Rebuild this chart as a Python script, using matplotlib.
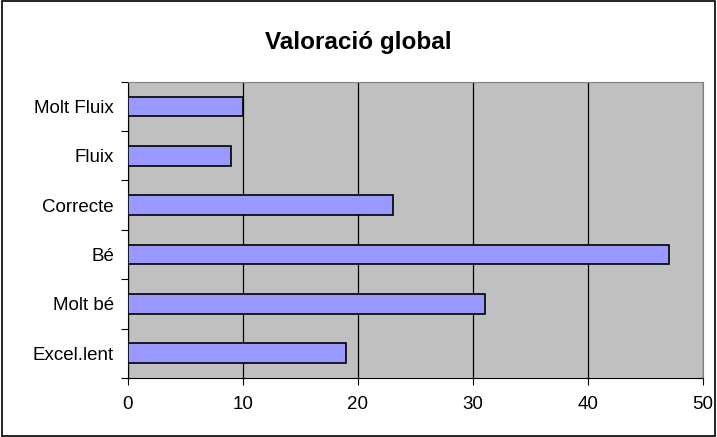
import matplotlib
matplotlib.use("Agg")
import matplotlib.pyplot as plt
from matplotlib.patches import Rectangle

plt.rcParams['font.family'] = ['Liberation Sans', 'DejaVu Sans']

# data, bottom to top as drawn
categories = ['Excel.lent', 'Molt bé', 'Bé', 'Correcte', 'Fluix', 'Molt Fluix']
values = [19, 31, 47, 23, 9, 10]
xticks = [0, 10, 20, 30, 40, 50]

fig = plt.figure(figsize=(7.17, 4.37), dpi=100)
ax = fig.add_axes([0.1785, 0.135, 0.802, 0.678])

ax.set_facecolor('#C0C0C0')
ax.barh(range(len(categories)), values, height=0.4, color='#9999FF',
        edgecolor='black', linewidth=1.2, zorder=3)

ax.set_xlim(0, 50)
ax.set_ylim(-0.5, len(categories) - 0.5)
ax.set_xticks(xticks)
ax.set_xticklabels([str(t) for t in xticks], fontsize=13.5)
ax.xaxis.grid(True, color='black', linewidth=0.9, zorder=1)
ax.set_axisbelow(True)

# category labels centred on bars, tick marks between categories
ax.set_yticks([i - 0.5 for i in range(len(categories) + 1)])
ax.set_yticklabels([])
ax.set_yticks(range(len(categories)), minor=True)
ax.set_yticklabels(categories, minor=True, fontsize=13.5)
ax.tick_params(axis='y', which='minor', length=0, pad=10)
ax.tick_params(axis='y', which='major', length=5, direction='out', color='black')
ax.tick_params(axis='x', length=5, direction='out', pad=8)

for s in ['top', 'right']:
    ax.spines[s].set_color('#808080')
for s in ['left', 'bottom']:
    ax.spines[s].set_color('black')

fig.text(0.5, 0.902, 'Valoració global', ha='center', va='center',
         fontsize=17.5, fontweight='bold')

fig.patches.append(Rectangle((0.003, 0.003), 0.994, 0.994, transform=fig.transFigure,
                             fill=False, edgecolor='black', linewidth=1.2))

fig.savefig('out.png', dpi=100)
